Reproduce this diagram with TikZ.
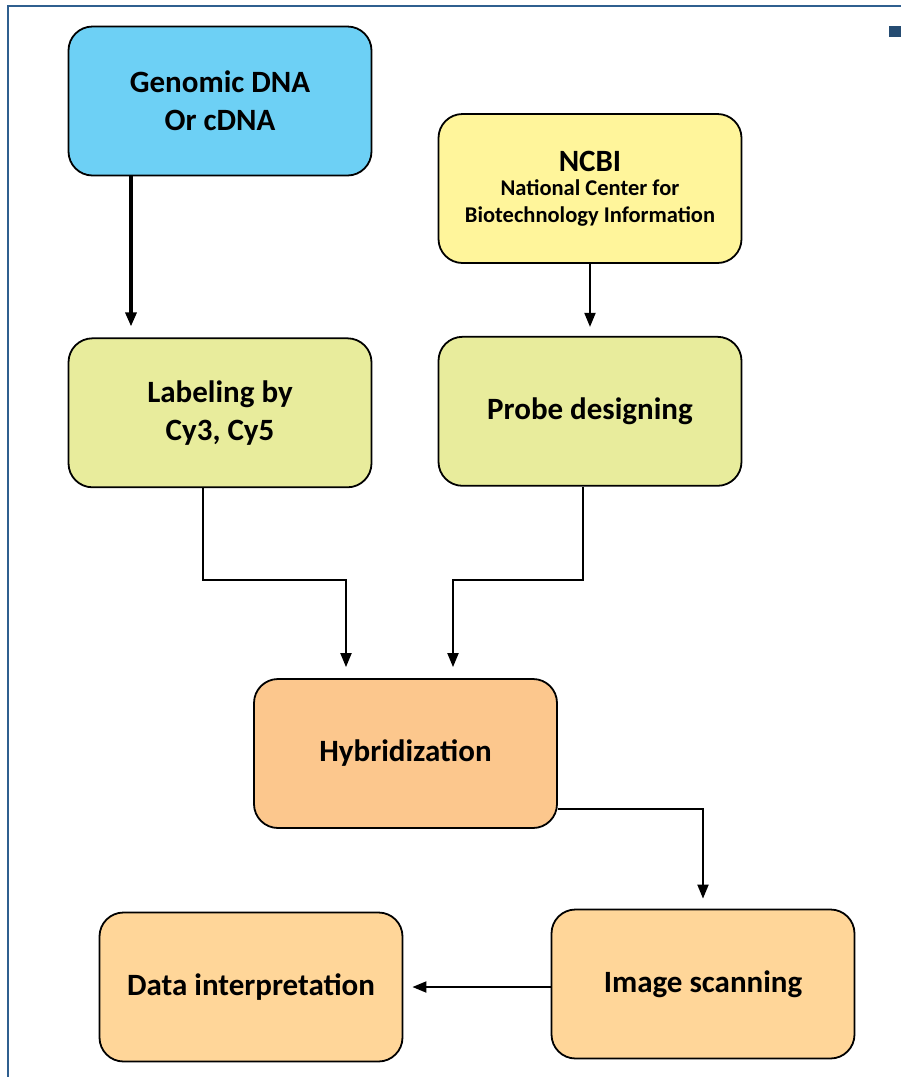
\documentclass[tikz,border=0pt]{standalone}
\usepackage{fontspec}
\setmainfont{Carlito}
\usetikzlibrary{arrows.meta, positioning}

\definecolor{dnablue}{HTML}{6DD0F5}
\definecolor{ncbiyellow}{HTML}{FFF59B}
\definecolor{stepgreen}{HTML}{E8EC9C}
\definecolor{hyborange}{HTML}{FCC78D}
\definecolor{endorange}{HTML}{FFD699}
\definecolor{framblue}{HTML}{2F5F8F}

\begin{document}
\begin{tikzpicture}[x=1pt, y=-1pt,
		box/.style={draw, line width=1.8pt, rounded corners=24pt, minimum width=303pt,
			minimum height=149pt, align=center, font=\fontsize{31}{38}\selectfont\bfseries},
		flow/.style={-{Triangle[length=14pt, width=11pt]}, line width=1.9pt}]
		\useasboundingbox (0,0) rectangle (901,1077);
		\draw [framblue, line width=1.4pt] (8,1077) -- (8,6) -- (901,6);
		\fill [framblue!80!black] (889,26) rectangle (901,37);

		\node (gdna) [box, fill=dnablue] at (220,101) {Genomic DNA\\Or cDNA};
		\node (label) [box, fill=stepgreen, below = 161pt of gdna] {Labeling by\\Cy3, Cy5};
		\node (ncbi) [box, fill=ncbiyellow, font=\fontsize{22.5}{27}\selectfont\bfseries,
			text depth=4pt] at (590,188.5)
			{{\fontsize{31}{31}\selectfont NCBI}\\[-3pt]National Center for\\Biotechnology Information};
		\node (probe) [box, fill=stepgreen, below = 72pt of ncbi] {Probe designing};
		\node (hyb) [box, fill=hyborange] at (405.5,753.5) {Hybridization};
		\node (scan) [box, fill=endorange] at (703,984) {Image scanning};
		\node (data) [box, fill=endorange] at (251,987) {Data interpretation};

		\draw [flow, line width=3.2pt] ([xshift=-89pt]gdna.south) -- ([xshift=-89pt, yshift=11pt]label.north);
		\draw [flow] (ncbi.south) -- ([yshift=9pt]probe.north);
		\draw [flow] ([xshift=-17pt]label.south) -- ++(0,92) -| ([xshift=-59.5pt, yshift=11pt]hyb.north);
		\draw [flow] ([xshift=-7pt]probe.south) -- ++(0,93) -| ([xshift=47.5pt, yshift=11pt]hyb.north);
		\draw [flow] ([yshift=-55.5pt]hyb.east) -| ([yshift=10pt]scan.north);
		\draw [flow] (scan.west |- data.east) -- ([xshift=9pt]data.east);
	\end{tikzpicture}
\end{document}
